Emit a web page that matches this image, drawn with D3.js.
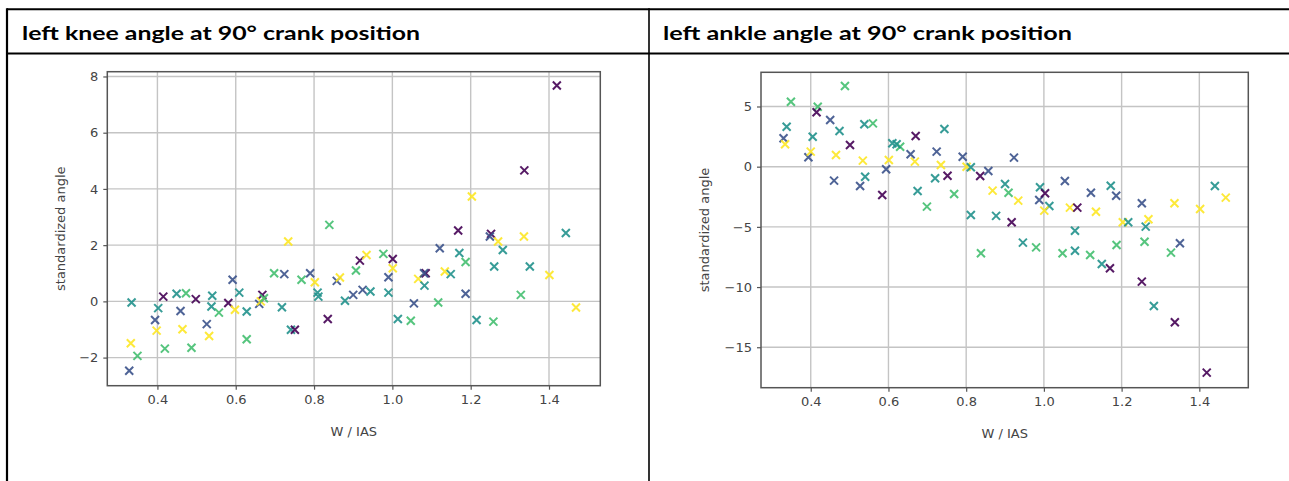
<!DOCTYPE html>
<html>
<head>
<meta charset="utf-8">
<script src="https://cdn.jsdelivr.net/npm/d3@7/dist/d3.min.js"></script>
<style>
  html, body { margin: 0; padding: 0; background: #fff; }
  svg { display: block; }
</style>
</head>
<body>
<svg id="chart" width="1289" height="481"></svg>
<script>
// ---------- data ----------
const panelTitles = ["left knee angle at 90° crank position", "left ankle angle at 90° crank position"];
const xTickValues = [0.4, 0.6, 0.8, 1.0, 1.2, 1.4];
const kneeYTicks = [-2, 0, 2, 4, 6, 8];
const ankleYTicks = [-15, -10, -5, 0, 5];
const xLabel = "W / IAS";
const yLabel = "standardized angle";

const kneeX = [0.334,0.332,0.349,0.328,0.394,0.402,0.398,0.415,0.419,0.449,0.473,0.459,0.464,0.498,0.487,0.526,0.532,0.540,0.538,0.557,
  0.592,0.581,0.598,0.609,0.628,0.628,0.668,0.660,0.664,0.672,0.698,0.724,0.718,0.734,0.741,0.751,0.768,0.790,0.802,0.809,
  0.811,0.835,0.839,0.858,0.866,0.907,0.917,0.934,0.879,0.900,0.924,0.944,0.977,1.001,1.001,0.990,0.990,1.014,1.047,1.055,
  1.066,1.085,1.081,1.082,1.117,1.121,1.134,1.149,1.171,1.187,1.187,1.215,1.258,1.260,1.282,1.328,1.351,1.401,1.469,1.420,
  1.337,1.203,1.168,1.252,1.249,1.270,1.336,1.443];
const kneeY = [-0.04,-1.49,-1.94,-2.47,-0.66,-0.24,-1.04,0.17,-1.68,0.27,0.29,-0.34,-0.99,0.08,-1.65,-0.81,-1.23,0.20,-0.18,-0.40,
  0.77,-0.06,-0.30,0.31,-0.36,-1.35,0.23,-0.09,0.00,0.11,1.00,0.97,-0.21,2.13,-1.01,-1.01,0.77,1.00,0.68,0.31,
  0.17,-0.63,2.72,0.73,0.85,1.10,1.45,1.65,0.02,0.23,0.41,0.35,1.69,1.51,1.18,0.86,0.31,-0.63,-0.69,-0.07,
  0.80,1.00,1.00,0.56,-0.04,1.89,1.06,0.97,1.72,1.40,0.27,-0.66,-0.72,1.24,1.83,0.23,1.24,0.94,-0.22,7.68,
  4.66,3.73,2.52,2.40,2.31,2.13,2.31,2.43];
const kneeGroup = [2,4,3,1,1,2,4,0,3,2,3,1,4,0,3,1,4,2,2,3,
  1,0,4,2,2,3,0,1,4,3,3,1,2,4,2,0,3,1,4,2,
  2,0,3,1,4,3,0,4,2,1,1,2,3,0,4,1,2,2,3,1,
  4,0,1,2,3,1,4,2,2,3,1,2,3,2,2,3,2,4,4,0,
  0,4,0,0,1,4,4,2];

const ankleX = [0.349,0.338,0.330,0.334,0.394,0.400,0.405,0.418,0.415,0.460,0.465,0.450,0.474,0.488,0.501,0.527,0.540,0.534,0.538,0.560,
  0.584,0.594,0.601,0.610,0.630,0.621,0.657,0.670,0.668,0.675,0.699,0.724,0.720,0.744,0.735,0.752,0.769,0.791,0.801,0.812,
  0.812,0.836,0.838,0.857,0.923,0.868,0.900,0.909,0.934,0.917,0.877,0.946,0.980,0.990,0.988,1.003,1.014,1.001,1.067,1.086,
  1.054,1.080,1.048,1.080,1.119,1.121,1.134,1.172,1.186,1.203,1.217,1.187,1.252,1.269,1.262,1.259,1.336,1.350,1.327,1.402,
  1.440,1.468,1.149,1.170,1.252,1.283,1.337,1.419];
const ankleY = [5.40,3.32,2.36,1.86,0.78,1.25,2.49,4.98,4.52,-1.16,0.97,3.88,2.97,6.70,1.80,-1.60,-0.83,0.50,3.52,3.60,
  -2.35,-0.22,0.56,1.94,1.66,1.86,1.03,2.55,0.42,-2.02,-3.32,1.25,-0.96,3.13,0.14,-0.75,-2.27,0.83,0.00,-0.05,
  -4.01,-0.77,-7.19,-0.36,0.75,-1.99,-1.44,-2.16,-2.82,-4.62,-4.09,-6.31,-6.70,-1.71,-2.77,-2.21,-3.26,-3.65,-3.40,-3.40,
  -1.19,-5.32,-7.19,-6.98,-7.33,-2.16,-3.74,-1.58,-2.41,-4.62,-4.62,-6.50,-3.04,-4.37,-4.98,-6.23,-3.04,-6.36,-7.14,-3.51,
  -1.60,-2.57,-8.08,-8.44,-9.55,-11.57,-12.92,-17.11];
const ankleGroup = [3,2,1,4,1,4,2,3,0,1,4,1,2,3,0,1,2,4,2,3,
  0,1,4,2,3,2,1,0,4,2,3,1,2,2,4,0,3,1,4,2,
  2,0,3,1,1,4,2,3,4,0,2,2,3,2,1,0,2,4,4,0,
  1,2,3,2,3,1,4,2,1,4,2,3,1,4,2,3,4,1,3,4,
  2,4,2,0,0,2,0,0];

const groupColors = [0, 0.25, 0.5, 0.7, 1].map(t => d3.interpolateViridis(t));

// ---------- layout ----------
const svg = d3.select("#chart");

// table frame
const frame = svg.append("g").attr("stroke", "#000").attr("fill", "none");
frame.append("line").attr("x1", 7).attr("x2", 1289).attr("y1", 9.2).attr("y2", 9.2).attr("stroke-width", 2);
frame.append("line").attr("x1", 7).attr("x2", 1289).attr("y1", 53.5).attr("y2", 53.5).attr("stroke-width", 2);
frame.append("line").attr("x1", 7).attr("x2", 7).attr("y1", 8.2).attr("y2", 481).attr("stroke-width", 2.2);
frame.append("line").attr("x1", 649).attr("x2", 649).attr("y1", 8.2).attr("y2", 481).attr("stroke-width", 1.6);

// titles
const titleSpecs = [{x: 22, w: 398}, {x: 663, w: 409}];
panelTitles.forEach((t, i) => {
  svg.append("text")
    .attr("x", titleSpecs[i].x).attr("y", 39.5)
    .attr("font-family", "Lato, 'DejaVu Sans', sans-serif")
    .attr("font-weight", "bold")
    .attr("font-size", 19.5)
    .attr("textLength", titleSpecs[i].w)
    .attr("lengthAdjust", "spacingAndGlyphs")
    .attr("fill", "#000")
    .text(t);
});

function drawPanel(box, xDomain, yDomain, yTicks, xs, ys, gs, yLabelX) {
  const x = d3.scaleLinear().domain(xDomain).range([box.left, box.right]);
  const y = d3.scaleLinear().domain(yDomain).range([box.bottom, box.top]);
  const g = svg.append("g");

  // grid
  g.append("g").selectAll("line").data(xTickValues).join("line")
    .attr("x1", d => x(d)).attr("x2", d => x(d))
    .attr("y1", box.top).attr("y2", box.bottom)
    .attr("stroke", "#c4c4c4").attr("stroke-width", 1.4);
  g.append("g").selectAll("line").data(yTicks).join("line")
    .attr("y1", d => y(d)).attr("y2", d => y(d))
    .attr("x1", box.left).attr("x2", box.right)
    .attr("stroke", "#c4c4c4").attr("stroke-width", 1.4);

  // axes
  const fmtX = d3.format(".1f");
  const xAxis = d3.axisBottom(x).tickValues(xTickValues).tickFormat(fmtX).tickSize(4).tickPadding(5);
  const yAxis = d3.axisLeft(y).tickValues(yTicks).tickFormat(d3.format("d")).tickSize(4).tickPadding(5);
  const gx = g.append("g").attr("transform", `translate(0,${box.bottom})`).call(xAxis);
  const gy = g.append("g").attr("transform", `translate(${box.left},0)`).call(yAxis);
  [gx, gy].forEach(a => {
    a.select(".domain").remove();
    a.selectAll(".tick line").attr("stroke", "#555").attr("stroke-width", 1.2);
    a.selectAll(".tick text").attr("fill", "#444")
      .attr("font-family", "'DejaVu Sans', sans-serif").attr("font-size", 13);
  });

  // spines
  g.append("rect")
    .attr("x", box.left).attr("y", box.top)
    .attr("width", box.right - box.left).attr("height", box.bottom - box.top)
    .attr("fill", "none").attr("stroke", "#555").attr("stroke-width", 1.5);

  // points
  const pts = xs.map((v, i) => ({x: v, y: ys[i], g: gs[i]}));
  g.append("g").selectAll("path").data(pts).join("path")
    .attr("transform", d => `translate(${x(d.x)},${y(d.y)})`)
    .attr("d", "M-4,-4L4,4M-4,4L4,-4")
    .attr("stroke", d => groupColors[d.g])
    .attr("stroke-width", 2)
    .attr("stroke-opacity", 0.9)
    .attr("fill", "none");

  // labels
  g.append("text")
    .attr("x", (box.left + box.right) / 2).attr("y", box.bottom + 50)
    .attr("text-anchor", "middle")
    .attr("font-family", "'DejaVu Sans', sans-serif").attr("font-size", 13)
    .attr("fill", "#444")
    .text(xLabel);
  g.append("text")
    .attr("transform", `translate(${yLabelX},${(box.top + box.bottom) / 2}) rotate(-90)`)
    .attr("text-anchor", "middle")
    .attr("font-family", "'DejaVu Sans', sans-serif").attr("font-size", 13)
    .attr("fill", "#444")
    .text(yLabel);
}

drawPanel({left: 107.3, right: 600.3, top: 71.7, bottom: 385.7}, [0.272, 1.531], [-3.0, 8.17], kneeYTicks,
  kneeX, kneeY, kneeGroup, 65);
drawPanel({left: 761, right: 1248.3, top: 72.3, bottom: 387.7}, [0.272, 1.526], [-18.36, 7.84], ankleYTicks,
  ankleX, ankleY, ankleGroup, 709);
</script>
</body>
</html>
